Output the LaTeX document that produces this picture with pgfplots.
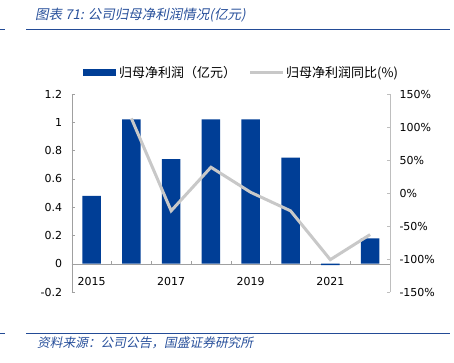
\documentclass[border=0pt]{standalone}
\usepackage{pgfplots}
\pgfplotsset{compat=1.18}
\usepackage{fontspec}
\setmainfont{DejaVu Sans}
\newfontfamily\cjk{Noto Sans CJK SC}
\newfontfamily\cjkit[FakeSlant=0.2]{Noto Sans CJK SC}
\definecolor{barblue}{RGB}{0,62,150}
\definecolor{linegray}{RGB}{200,200,200}
\definecolor{axgray}{RGB}{160,160,160}
\definecolor{axgrayR}{RGB}{190,190,190}
\definecolor{hdrblue}{RGB}{35,75,150}
\definecolor{titleblue}{RGB}{40,80,155}
\begin{document}
\begin{tikzpicture}
\useasboundingbox (0,0) rectangle (454bp,363bp);
% header / footer
\draw[hdrblue, line width=1.3bp] (0,333.5bp) -- (5bp,333.5bp);
\draw[hdrblue, line width=1.3bp] (26bp,333.5bp) -- (450bp,333.5bp);
\draw[hdrblue, line width=1.3bp] (0,29.7bp) -- (5bp,29.7bp);
\draw[hdrblue, line width=1.3bp] (26bp,29.7bp) -- (450bp,29.7bp);
\node[anchor=west, inner sep=0, text=titleblue] at (35bp,348bp) {\cjkit\fontsize{13.5bp}{16bp}\selectfont 图表 71: 公司归母净利润情况(亿元)};
\node[anchor=west, inner sep=0, text=titleblue] at (37bp,20bp) {\cjkit\fontsize{12.7bp}{15bp}\selectfont 资料来源：公司公告，国盛证券研究所};
% legend
\fill[barblue] (83bp,286.5bp) rectangle (116bp,293.5bp);
\node[anchor=west, inner sep=0] at (119bp,290bp) {\cjk\fontsize{13bp}{15bp}\selectfont 归母净利润（亿元）};
\draw[linegray, line width=3bp] (250bp,290bp) -- (283bp,290bp);
\node[anchor=west, inner sep=0] at (286bp,290bp) {\cjk\fontsize{13bp}{15bp}\selectfont 归母净利润同比(\%)};
% bar axis
\begin{axis}[
  at={(71.7bp,71bp)}, anchor=south west,
  scale only axis, width=318.3bp, height=198bp,
  xmin=-0.5, xmax=7.5, ymin=-0.2, ymax=1.2,
  axis x line=middle, axis y line*=left,
  x axis line style={-, draw=axgray},
  y axis line style={-, draw=axgray},
  xtick={0,2,4,6}, xticklabels={2015,2017,2019,2021},
  xtick style={draw=none},
  xticklabel style={font=\fontsize{11bp}{13bp}\selectfont, yshift=-10bp},
  ytick={-0.2,0,0.2,0.4,0.6,0.8,1,1.2},
  yticklabels={-0.2,0,0.2,0.4,0.6,0.8,1,1.2},
  yticklabel style={font=\fontsize{11bp}{13bp}\selectfont, xshift=-6bp},
  ytick style={draw=axgray},
  tick align=inside, major tick length=3bp,
  /pgf/number format/assume math mode=true,
]
\addplot[ybar, bar width=18.5bp, fill=barblue, draw=none] coordinates {
 (0,0.48) (1,1.02) (2,0.74) (3,1.02) (4,1.02) (5,0.75) (6,-0.01) (7,0.18)};
\pgfplotsinvokeforeach{0.5,1.5,2.5,3.5,4.5,5.5,6.5}{
  \draw[axgray] (axis cs:#1,0) -- ([yshift=3bp]axis cs:#1,0);
}
\end{axis}
% line axis
\begin{axis}[
  at={(71.7bp,71bp)}, anchor=south west,
  scale only axis, width=318.3bp, height=198bp,
  xmin=-0.5, xmax=7.5, ymin=-150, ymax=150,
  axis x line=none, axis y line*=right,
  y axis line style={-, draw=axgrayR},
  ytick={-150,-100,-50,0,50,100,150},
  yticklabels={-150\%,-100\%,-50\%,0\%,50\%,100\%,150\%},
  yticklabel style={font=\fontsize{11bp}{13bp}\selectfont, xshift=6bp},
  ytick style={draw=axgrayR},
  tick align=inside, major tick length=3bp,
]
\addplot[linegray, line width=3bp, mark=none] coordinates {
 (1,113) (2,-27) (3,39) (4,1) (5,-27) (6,-101) (7,-63)};
\end{axis}
\end{tikzpicture}
\end{document}
